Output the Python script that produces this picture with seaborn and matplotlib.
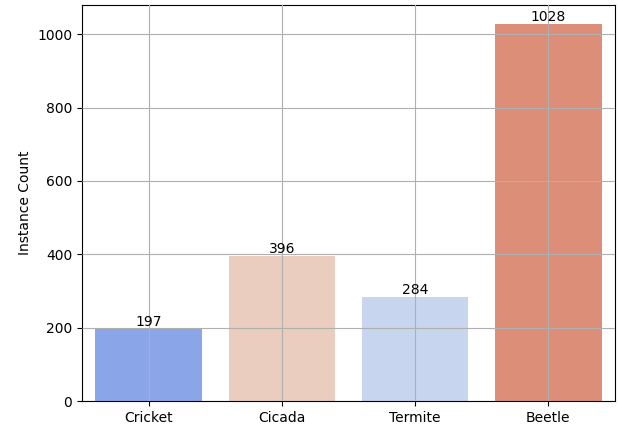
import matplotlib
matplotlib.use("Agg")
import matplotlib.pyplot as plt
import seaborn as sns
import pandas as pd
import numpy as np

categories = ["Cricket", "Cicada", "Termite", "Beetle"]
counts = [197, 396, 284, 1028]

df = pd.DataFrame({"Insect": categories, "Count": counts})
pal_list = sns.color_palette("coolwarm", len(categories))
ranks = np.argsort(np.argsort(counts))
palette = {c: pal_list[r] for c, r in zip(categories, ranks)}

fig, ax = plt.subplots(figsize=(6.18, 4.3), dpi=100)
sns.barplot(data=df, x="Insect", y="Count", hue="Insect", palette=palette,
            legend=False, ax=ax)
for cont in ax.containers:
    ax.bar_label(cont, fontsize=10)
ax.set_xlabel("")
ax.set_ylabel("Instance Count")
ax.grid(True)
ax.set_axisbelow(False)
fig.subplots_adjust(left=0.1327, right=0.995, top=0.988, bottom=0.0674)
fig.savefig("out.png", dpi=100)
